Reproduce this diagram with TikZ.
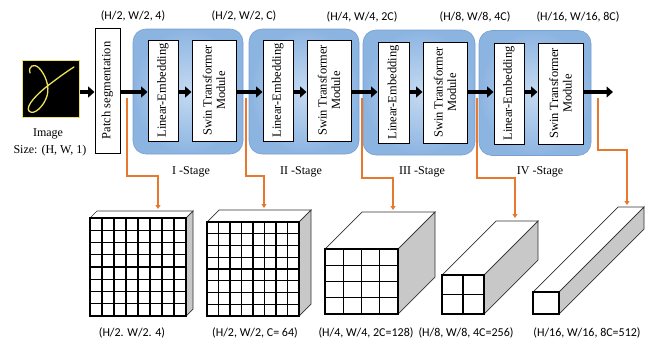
\documentclass[tikz,border=0pt]{standalone}
\usepackage{fontspec}
\setmainfont{Liberation Serif}
\newfontfamily\labfont{Carlito}
\usetikzlibrary{arrows.meta}
\definecolor{stageinner}{RGB}{196,218,242}
\definecolor{stageouter}{RGB}{140,180,225}
\definecolor{stageedge}{RGB}{120,160,210}
\definecolor{tapcolor}{RGB}{232,120,45}
\definecolor{sidegray}{RGB}{200,200,200}
\definecolor{imgyellow}{RGB}{235,225,90}

% feature block: front face (x1,y1)-(x2,y2), depth d, n x n cells
\newcommand{\cubeblock}[6]{%
  \filldraw[cubeedge,fill=white] (#1,#2) -- (#1+#5,#2-#5) -- (#3+#5,#2-#5) -- (#3,#2) -- cycle;
  \filldraw[cubeedge,fill=sidegray] (#3,#2) -- (#3+#5,#2-#5) -- (#3+#5,#4-#5) -- (#3,#4) -- cycle;
  \filldraw[cubeedge,fill=white] (#1,#2) rectangle (#3,#4);
  \foreach \i in {1,...,#6}{%
    \draw[gridline] ({#1+(#3-#1)*\i/#6},#2) -- ({#1+(#3-#1)*\i/#6},#4);
    \draw[gridline] (#1,{#2+(#4-#2)*\i/#6}) -- (#3,{#2+(#4-#2)*\i/#6});
  }%
  \draw[gridline] (#1,#2) rectangle (#3,#4);
}

\begin{document}
\begin{tikzpicture}[x=1pt,y=-1pt,
  stage/.style={rounded corners=13pt,draw=stageedge,line width=0.6pt,
    inner color=stageinner,outer color=stageouter},
  modbox/.style={draw=black,line width=1pt,fill=white,rotate=90,
    font=\fontsize{12.5}{13.5}\selectfont,align=center,inner sep=0pt},
  fat/.style={line width=4.5pt,-{Triangle[length=6.5pt,width=11pt]}},
  tap/.style={draw=tapcolor,line width=1.4pt,-{Triangle[length=4pt,width=5pt]}},
  dimlab/.style={font=\labfont\fontsize{12}{13}\selectfont},
  stagelab/.style={font=\fontsize{12}{13}\selectfont},
  cubeedge/.style={draw=black!80,line width=0.7pt},
  gridline/.style={draw=black,line width=1.1pt}]
\useasboundingbox (0,0) rectangle (656,343);

% input image
\node[draw=imgyellow,line width=0.8pt,fill=black,minimum size=57pt,inner sep=0pt] (img) at (51,89) {};
\draw[imgyellow,line width=1.3pt,line cap=round]
  (30,73) .. controls (28,66) and (34,63) .. (39,68)
  .. controls (45,74) and (50,86) .. (47,96)
  .. controls (44,106) and (34,116) .. (29,111)
  .. controls (25,106) and (38,93) .. (50,84)
  .. controls (58,78) and (66,72) .. (74,67);
\node[stagelab] (imglab) at (48,134) {Image};
\node[stagelab] (sizelab) at (50,151) {Size: (H, W, 1)};

% patch segmentation (rotated: north is the left side, south the right side)
\node[modbox,minimum width=125pt,minimum height=25pt] (patch) at (107.5,90.5) {Patch segmentation};

% stages
\node[stage,minimum width=110pt,minimum height=125pt] (s1) at (188,91.5) {};
\node[stage,minimum width=110pt,minimum height=125pt] (s2) at (304,91.5) {};
\node[stage,minimum width=112pt,minimum height=125pt] (s3) at (419,92.5) {};
\node[stage,minimum width=112pt,minimum height=125pt] (s4) at (535,93) {};

\node[modbox,minimum width=101pt,minimum height=30pt] (le1) at (163,90.5) {Linear-Embedding};
\node[modbox,minimum width=101pt,minimum height=44pt] (st1) at (214,90.5) {Swin Transformer\\Module};
\node[modbox,minimum width=101pt,minimum height=30pt] (le2) at (278,90.5) {Linear-Embedding};
\node[modbox,minimum width=101pt,minimum height=44pt] (st2) at (329,90.5) {Swin Transformer\\Module};
\node[modbox,minimum width=101pt,minimum height=31pt] (le3) at (393.5,92.5) {Linear-Embedding};
\node[modbox,minimum width=101pt,minimum height=44pt] (st3) at (445,92.5) {Swin Transformer\\Module};
\node[modbox,minimum width=101pt,minimum height=30pt] (le4) at (509,93.5) {Linear-Embedding};
\node[modbox,minimum width=101pt,minimum height=45pt] (st4) at (560.5,93.5) {Swin Transformer\\Module};
\coordinate (out) at (613,92);

% main flow
\draw[fat,line width=3.5pt] (img.east|-0,92) -- (patch.north|-0,92);
\draw[fat] (patch.south|-0,92) -- (le1.north|-0,92);
\draw[fat] (le1.south|-0,92) -- (st1.north|-0,92);
\draw[fat] (st1.south|-0,92) -- (le2.north|-0,92);
\draw[fat] (le2.south|-0,92) -- (st2.north|-0,92);
\draw[fat] (st2.south|-0,92) -- (le3.north|-0,92);
\draw[fat] (le3.south|-0,92) -- (st3.north|-0,92);
\draw[fat] (st3.south|-0,92) -- (le4.north|-0,92);
\draw[fat] (le4.south|-0,92) -- (st4.north|-0,92);
\draw[fat] (st4.south|-0,92) -- (out);

% dimension labels
\node[dimlab] (d0) at (133,16) {(H/2, W/2, 4)};
\node[dimlab] (d1) at (244,16) {(H/2, W/2, C)};
\node[dimlab] (d2) at (362,17) {(H/4, W/4, 2C)};
\node[dimlab] (d3) at (475,17) {(H/8, W/8, 4C)};
\node[dimlab] (d4) at (578,17) {(H/16, W/16, 8C)};

% stage labels
\node[stagelab] (l1) at (191,172) {I -Stage};
\node[stagelab] (l2) at (301,172) {II -Stage};
\node[stagelab] (l3) at (422,172) {III -Stage};
\node[stagelab] (l4) at (540,172) {IV -Stage};

% feature blocks
\cubeblock{90}{218}{186}{316}{7}{8}
\cubeblock{207}{222}{299}{316}{12}{8}
\cubeblock{325}{249}{398}{314}{37}{4}
\cubeblock{442}{275}{484}{314}{54}{2}
\cubeblock{533}{292}{559}{314}{85}{1}

% taps from the main flow to the feature blocks
\coordinate (t1) at (127,98);  \coordinate (k1) at (158,176); \coordinate (c1) at (158,209);
\coordinate (t2) at (246,98);  \coordinate (k2) at (264,176); \coordinate (c2) at (264,208);
\coordinate (t3) at (362,98);  \coordinate (k3) at (393,178); \coordinate (c3) at (393,210);
\coordinate (t4) at (477,98);  \coordinate (k4) at (515,178); \coordinate (c4) at (515,218);
\coordinate (t5) at (598,98);  \coordinate (k5) at (627,150); \coordinate (c5) at (627,205);
\draw[tap] (t1) |- (k1) -- (c1);
\draw[tap] (t2) |- (k2) -- (c2);
\draw[tap] (t3) |- (k3) -- (c3);
\draw[tap] (t4) |- (k4) -- (c4);
\draw[tap] (t5) |- (k5) -- (c5);

% block labels
\node[dimlab] (b1) at (132,333) {(H/2. W/2. 4)};
\node[dimlab] (b2) at (255,333) {(H/2, W/2, C= 64)};
\node[dimlab] (b3) at (366,333) {(H/4, W/4, 2C=128)};
\node[dimlab] (b4) at (466,333) {(H/8, W/8, 4C=256)};
\node[dimlab] (b5) at (587,333) {(H/16, W/16, 8C=512)};
\end{tikzpicture}
\end{document}
